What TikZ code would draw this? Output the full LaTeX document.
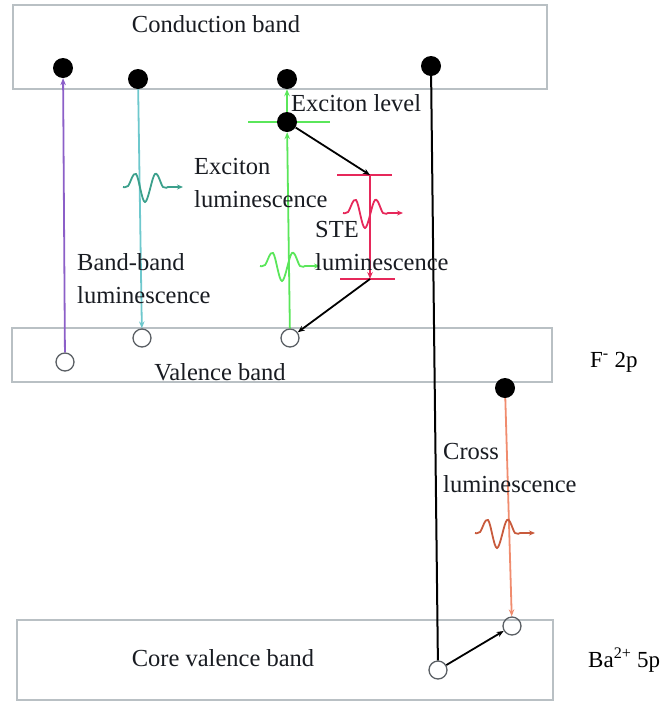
\documentclass[tikz,border=0pt]{standalone}
\usepackage{fontspec}
\setmainfont{Liberation Serif}
\usepackage{tikz}
\usetikzlibrary{arrows.meta, positioning, calc}

\definecolor{bbpurple}{RGB}{140,95,200}
\definecolor{exteal}{RGB}{110,200,205}
\definecolor{exwave}{RGB}{60,160,140}
\definecolor{exgreen}{RGB}{90,230,90}
\definecolor{stered}{RGB}{230,40,90}
\definecolor{crorange}{RGB}{240,140,110}
\definecolor{crwave}{RGB}{200,90,60}
\definecolor{bandgray}{RGB}{185,192,196}
\definecolor{holegray}{RGB}{90,95,100}
\definecolor{txtgray}{RGB}{25,28,34}

\begin{document}
\begin{tikzpicture}[
    x=1pt, y=1pt,
    band/.style={rectangle, draw=bandgray, line width=1.5pt, inner sep=0pt},
    elec/.style={circle, fill=black, minimum size=20pt, inner sep=0pt},
    hole/.style={circle, draw=holegray, line width=1.3pt, minimum size=18pt, inner sep=0pt},
    txt/.style={font=\fontsize{24.5}{33}\selectfont, align=left, inner sep=0pt, text=txtgray},
    arrow/.style={-{Stealth[length=7pt, width=5.5pt]}, line width=1.8pt},
    level/.style={line width=1.8pt},
    photon/.pic={\draw[line width=1.8pt, -{Stealth[length=6pt, width=5pt]}]
        plot[smooth, tension=0.6] coordinates {(0,0) (5,1) (13,13) (22,-15) (32,13) (40,0) (45,0)} -- (60,0);}
]
\useasboundingbox (0,0) rectangle (662,-702);

% bands
\node[band, minimum width=534pt, minimum height=84pt] (cb) at (280,-47) {};
\node[band, minimum width=540pt, minimum height=54pt] (vb) at (282,-355) {};
\node[band, minimum width=536pt, minimum height=80pt] (cvb) at (285,-660) {};

% exciton and STE levels
\coordinate (exlev) at (287,-122);
\coordinate (stet) at (370,-175);
\coordinate (steb) at (370,-279);
\draw[level, exgreen] ([xshift=-39pt]exlev) -- ([xshift=43pt]exlev);
\draw[level, stered] ([xshift=-33pt]stet) -- ([xshift=22pt]stet);
\draw[level, stered] ([xshift=-30pt]steb) -- ([xshift=25pt]steb);

% electrons
\node[elec] (e1) at (63,-68) {};
\node[elec] (e2) at (138,-79) {};
\node[elec] (e3) at (287,-79) {};
\node[elec] (e4) at (431,-66) {};
\node[elec] (ex) at (exlev) {};
\node[elec] (ef) at (505,-388) {};

% holes
\node[hole] (h1) at (65,-362) {};
\node[hole] (h2) at (142,-338) {};
\node[hole] (h3) at (290,-338) {};
\node[hole] (hc) at (438,-670) {};
\node[hole] (hx) at (512,-626) {};

% transitions
\draw[arrow, bbpurple] (h1) -- (e1);
\draw[arrow, exteal] (e2) -- (h2);
\draw[arrow, exgreen] (h3) -- (ex);
\draw[arrow, exgreen] (ex) -- (e3);
\draw[arrow] (ex) -- (stet);
\draw[arrow, stered] (stet) -- (steb);
\draw[arrow] (steb) -- (h3);
\draw[line width=2pt] (e4) -- (hc);
\draw[arrow] (hc) -- (hx);
\draw[arrow, crorange] (ef) -- (hx);

% emitted photons
\pic[exwave] (ph1) at (123,-187) {photon};
\pic[exgreen] (ph2) at (260,-266) {photon};
\pic[stered] (ph3) at (343,-213) {photon};
\pic[crwave] (ph4) at (475,-533) {photon};

% labels
\node[txt] (cbtxt) at (216,-24) {Conduction band};
\node[txt] (vbtxt) at (220,-372) {Valence band};
\node[txt] (cvbtxt) at (223,-658) {Core valence band};
\node[txt, anchor=west] (exlvl) at (291,-103) {Exciton level};
\node[txt, anchor=west] (exlum) at (194,-183) {Exciton\\luminescence};
\node[txt, anchor=west] (bblum) at (77,-279) {Band-band\\luminescence};
\node[txt, anchor=west] (stelum) at (315,-246) {STE\\luminescence};
\node[txt, anchor=west] (crlum) at (443,-468) {Cross\\luminescence};
\node[txt, anchor=west, text=black, font=\fontsize{23}{28}\selectfont] (f2p) at (590,-362) {F\textsuperscript{-} 2p};
\node[txt, anchor=west, text=black, font=\fontsize{23}{28}\selectfont] (ba5p) at (588,-660) {Ba\textsuperscript{2+} 5p};

\end{tikzpicture}
\end{document}
